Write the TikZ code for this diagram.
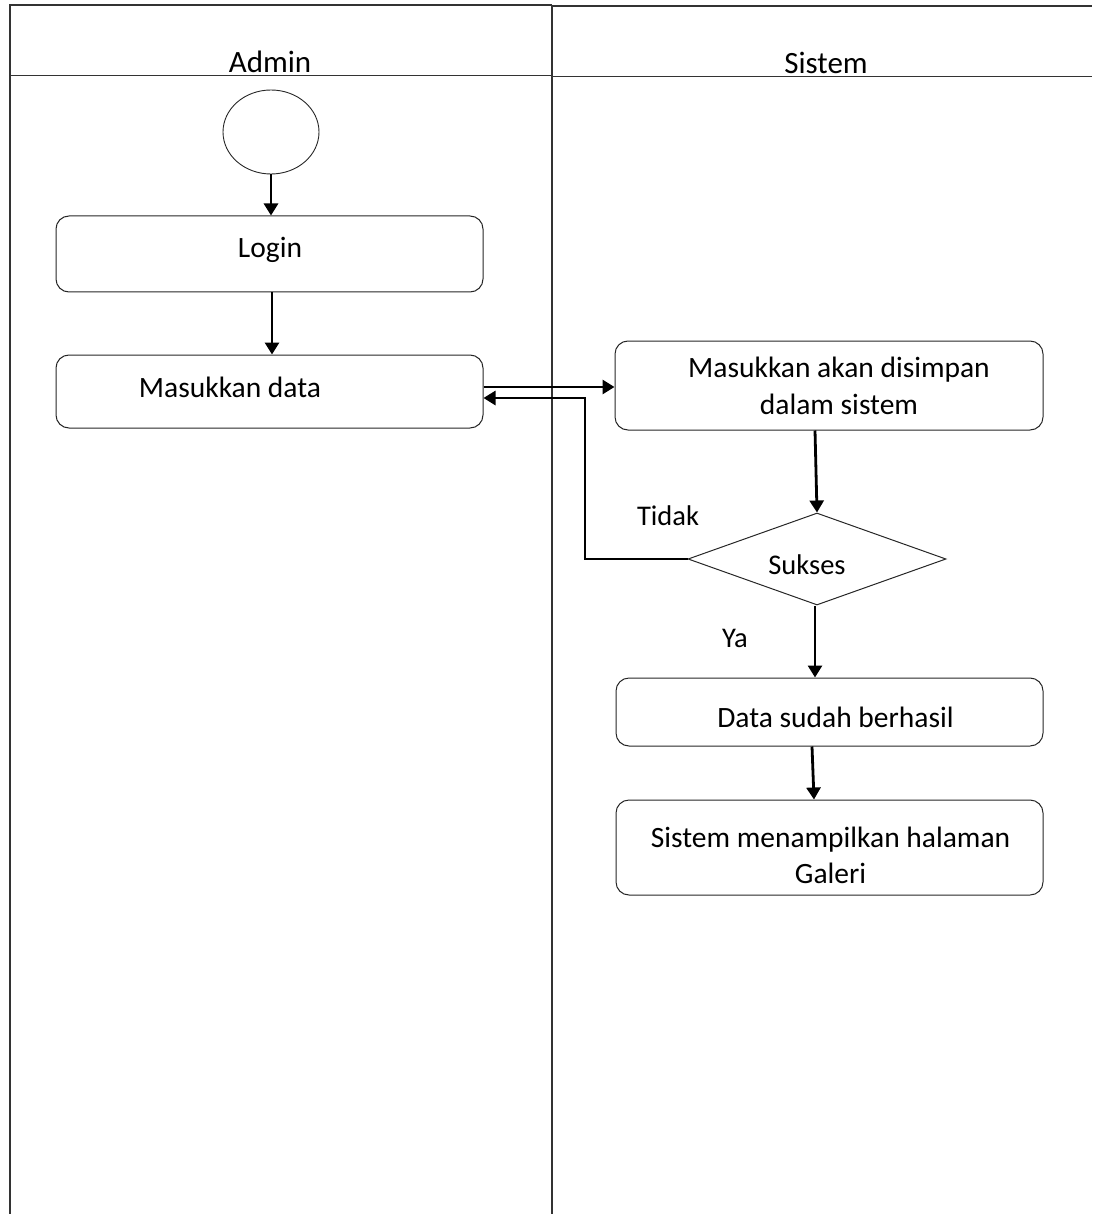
\documentclass[tikz,border=0pt]{standalone}
\usepackage{fontspec}
\setmainfont{Carlito}
\usetikzlibrary{arrows.meta,shapes.geometric}
\tikzset{
  lane/.style={line width=1.5pt, draw=black!80},
  box/.style={draw=black!85, line width=1pt, rounded corners=13pt, inner sep=0pt},
  cond/.style={draw=black!85, line width=1pt, shape=diamond, inner sep=0pt},
  startnode/.style={draw=black!85, line width=0.9pt, ellipse, inner sep=0pt},
  txt/.style={anchor=base, inner sep=0pt, font=\fontsize{29.5}{36}\selectfont},
  hdr/.style={anchor=base, inner sep=0pt, font=\fontsize{31}{36}\selectfont},
  lbl/.style={anchor=base, inner sep=0pt, font=\fontsize{28.5}{34}\selectfont},
  flow/.style={line width=2.8pt, -{Triangle[length=12pt,width=14pt]}},
}
\begin{document}
\begin{tikzpicture}[x=1pt,y=-1pt]
\useasboundingbox (0,0) rectangle (1092,1214);
% swimlanes
\draw[lane] (10,1214) -- (10,5) -- (552,5);
\draw[lane] (552,6) -- (1092,6);
\draw[lane] (10,75.5) -- (552,75.5);
\draw[lane] (552,76.5) -- (1092,76.5);
\draw[lane] (552,5) -- (552,1214);
\node[hdr] (hadmin) at (270,73) {Admin};
\node[hdr] (hsistem) at (826,74) {Sistem};
% nodes
\node[startnode, minimum width=96pt, minimum height=84pt] (start) at (271,132) {};
\node[box, minimum width=427pt, minimum height=76pt] (login) at (269.5,254) {};
\node[txt] (tlogin) at (270,258) {Login};
\node[box, minimum width=427pt, minimum height=73pt] (masuk) at (269.5,391.5) {};
\node[txt] (tmasuk) at (230,397) {Masukkan data};
\node[box, minimum width=428pt, minimum height=89pt] (simpan) at (829,385.5) {};
\node[txt] (tsimpan1) at (839,377) {Masukkan akan disimpan};
\node[txt] (tsimpan2) at (839,414) {dalam sistem};
\node[cond, minimum width=258pt, minimum height=92pt] (sukses) at (817,559) {};
\node[lbl] (tsukses) at (807,574) {Sukses};
\node[lbl] (ttidak) at (668,525) {Tidak};
\node[lbl] (tya) at (735,647) {Ya};
\node[box, minimum width=427pt, minimum height=68pt] (berhasil) at (829.5,712) {};
\node[txt] (tberhasil) at (835.5,727) {Data sudah berhasil};
\node[box, minimum width=427pt, minimum height=95pt] (galeri) at (829.5,847.5) {};
\node[txt] (tgaleri1) at (830.5,847) {Sistem menampilkan halaman};
\node[txt] (tgaleri2) at (830.5,883) {Galeri};
% connectors
\draw[flow] (start.south) -- (start.south |- login.north);
\draw[flow] ([xshift=1pt]login.south -| start.south) -- ([xshift=1pt]masuk.north -| start.south);
\draw[flow] ([yshift=4.5pt]masuk.east) -- ([yshift=4.5pt]masuk.east -| simpan.west);
\coordinate (bend) at (585,398);
\draw[flow] (sukses.west) -| (bend) -- (masuk.east |- bend);
\draw[flow] ([xshift=-14pt]simpan.south) -- (sukses.north);
\draw[flow] ([xshift=-2pt]sukses.south) -- ([xshift=-2pt]sukses.south |- berhasil.north);
\draw[flow] ([xshift=-17.5pt]berhasil.south) -- ([xshift=-15.5pt]galeri.north);
\end{tikzpicture}
\end{document}
